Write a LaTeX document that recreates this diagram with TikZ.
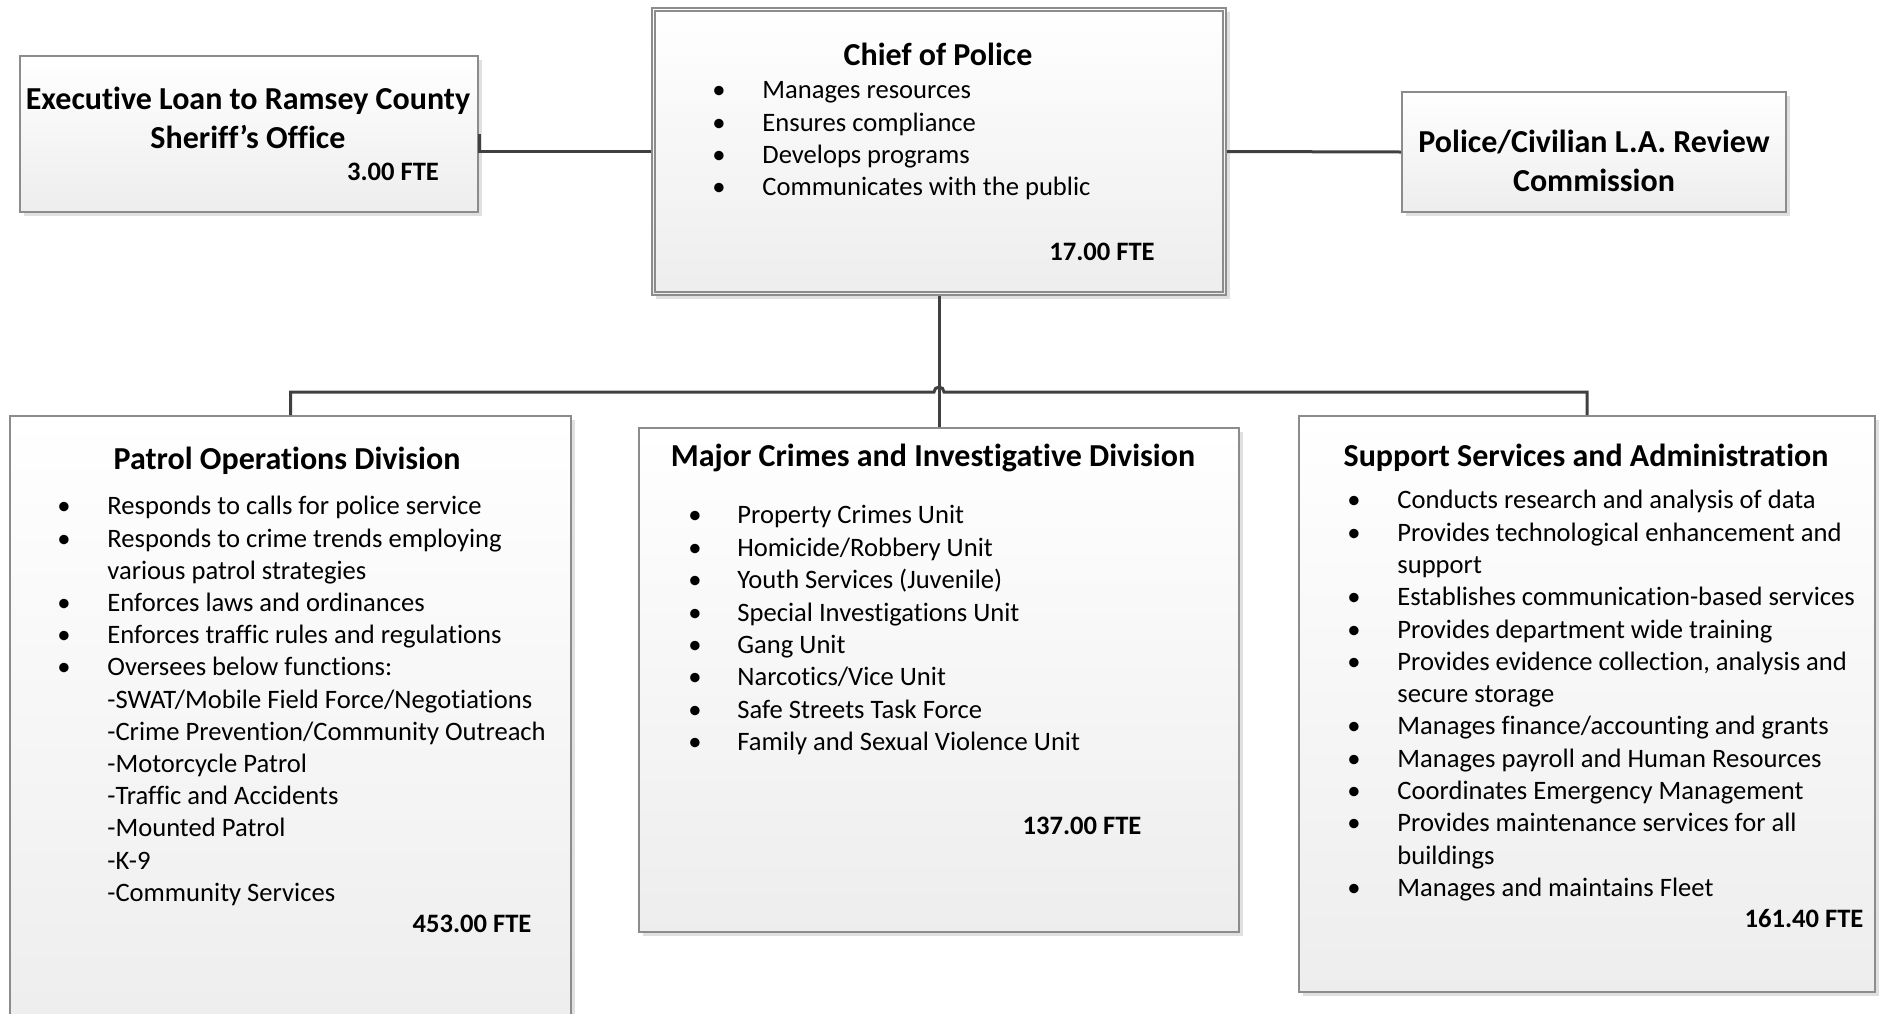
\documentclass[tikz,border=0pt]{standalone}
\usepackage{fontspec}
\setmainfont{Carlito}[Ligatures={TeX,NoCommon,NoContextual}, RawFeature={-liga;-clig;-dlig}]
\usetikzlibrary{shadows,fit}

\tikzset{
  orgbox/.style={draw=black!45, line width=1pt, top color=white, bottom color=black!7,
    drop shadow={shadow xshift=2pt, shadow yshift=-2pt, fill=black!12, opacity=1},
    inner sep=0pt},
  link/.style={draw=black!75, line width=1.5pt},
  headtxt/.style={font=\fontsize{16}{19.5}\selectfont\bfseries, align=center, inner sep=0pt},
  itemtxt/.style={font=\fontsize{13.3}{16}\selectfont, anchor=west, inner sep=0pt,
    text height=2.1ex, text depth=0.25ex},
  bul/.style={itemtxt, anchor=center},
  ftetxt/.style={itemtxt, anchor=center, font=\fontsize{13.3}{16}\selectfont\bfseries},
}

\begin{document}
\begin{tikzpicture}[x=0.5pt, y=-0.5pt]
  \clip (0,0) rectangle (1881,1013);

  % Chief of Police
  \node[orgbox, fit={(652,8) (1226,295)}] (chief) {};
  \draw[draw=black!45, line width=0.8pt] ([shift={(4,4)}]chief.north west) rectangle ([shift={(-4,-4)}]chief.south east);
  \node[headtxt] (chieft) at (938,54) {Chief of Police};
  \foreach \txt [count=\i] in {Manages resources, Ensures compliance, Develops programs, Communicates with the public}
    \node[itemtxt] (chiefi\i) at (762,{90+32.3*(\i-1)}) {\txt};
  \foreach \i in {1,...,4}
    \node[bul] (chiefb\i) at (719,{90+32.3*(\i-1)}) {\textbullet};
  \node[ftetxt] (chieffte) at (1102,252) {17.00 FTE};

  % Executive loan
  \node[orgbox, fit={(20,56) (478,212)}] (exec) {};
  \node[headtxt] (exect) at (248,118) {Executive Loan to Ramsey County\\Sheriff’s Office};
  \node[ftetxt] (execfte) at (393,172) {3.00 FTE};

  % Review commission
  \node[orgbox, fit={(1402,92) (1786,212)}] (review) {};
  \node[headtxt] (reviewt) at (1594,161) {Police/Civilian L.A. Review\\Commission};

  % Patrol operations
  \node[orgbox, fit={(10,416) (571,1040)}] (patrol) {};
  \node[headtxt] (patrolt) at (287,461) {Patrol Operations Division};
  \foreach \txt [count=\i] in {Responds to calls for police service, Responds to crime trends employing,
      various patrol strategies, Enforces laws and ordinances, Enforces traffic rules and regulations,
      Oversees below functions:, -SWAT/Mobile Field Force/Negotiations, -Crime Prevention/Community Outreach,
      -Motorcycle Patrol, -Traffic and Accidents, -Mounted Patrol, -K-9, -Community Services}
    \node[itemtxt] (patroli\i) at (107,{506+32.2*(\i-1)}) {\txt};
  \foreach \i in {1,2,4,5,6}
    \node[bul] (patrolb\i) at (64,{506+32.2*(\i-1)}) {\textbullet};
  \node[ftetxt] (patrolfte) at (472,924) {453.00 FTE};

  % Major crimes
  \node[orgbox, fit={(639,428) (1239,932)}] (major) {};
  \node[headtxt] (majort) at (933,458) {Major Crimes and Investigative Division};
  \foreach \txt [count=\i] in {Property Crimes Unit, Homicide/Robbery Unit, Youth Services (Juvenile),
      Special Investigations Unit, Gang Unit, Narcotics/Vice Unit, Safe Streets Task Force,
      Family and Sexual Violence Unit}
    \node[itemtxt] (majori\i) at (737,{515+32.4*(\i-1)}) {\txt};
  \foreach \i in {1,...,8}
    \node[bul] (majorb\i) at (695,{515+32.4*(\i-1)}) {\textbullet};
  \node[ftetxt] (majorfte) at (1082,826) {137.00 FTE};

  % Support services
  \node[orgbox, fit={(1299,416) (1875,992)}] (support) {};
  \node[headtxt] (supportt) at (1586,458) {Support Services and Administration};
  \foreach \txt [count=\i] in {Conducts research and analysis of data, Provides technological enhancement and,
      support, Establishes communication-based services, Provides department wide training,
      {Provides evidence collection, analysis and}, secure storage, Manages finance/accounting and grants,
      Manages payroll and Human Resources, Coordinates Emergency Management,
      Provides maintenance services for all, buildings, Manages and maintains Fleet}
    \node[itemtxt] (supporti\i) at (1397,{500+32.3*(\i-1)}) {\txt};
  \foreach \i in {1,2,4,5,6,8,9,10,11,13}
    \node[bul] (supportb\i) at (1354,{500+32.3*(\i-1)}) {\textbullet};
  \node[ftetxt] (supportfte) at (1804,919) {161.40 FTE};

  % Connectors
  \coordinate (bus) at (0,392);
  \draw[link] (exec.east) |- (chief.west);
  \draw[link] (chief.east) -- (review.west);
  \draw[link] (chief.south) -- (major.north);
  \draw[link] (patrol.north) -- (patrol.north |- bus) -- ([xshift=-2.5pt]major.north |- bus)
    arc (180:360:5) -- (support.north |- bus) -- (support.north);
\end{tikzpicture}
\end{document}
